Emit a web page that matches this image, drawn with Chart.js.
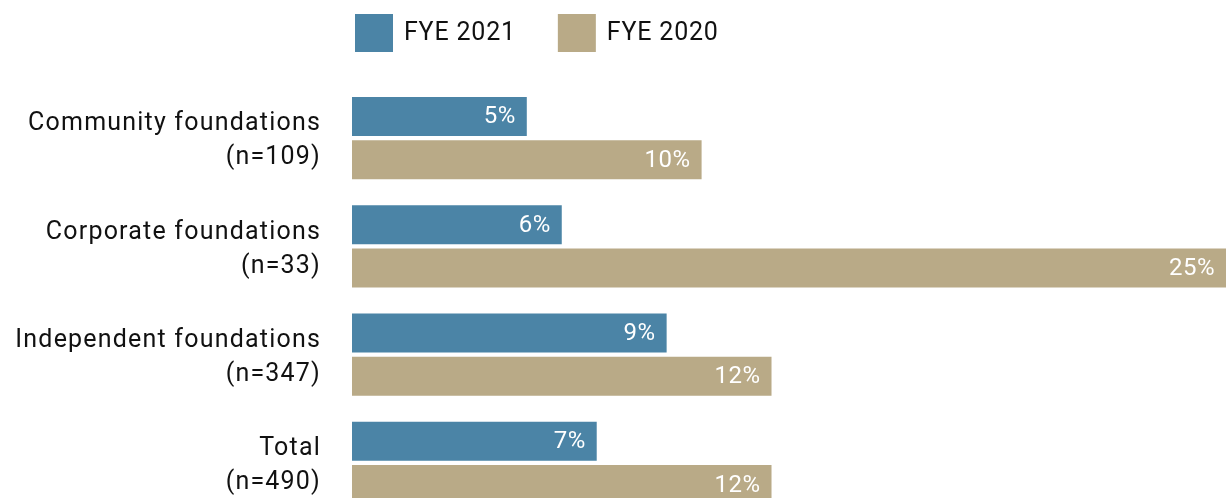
<!DOCTYPE html>
<html>
<head>
<meta charset="utf-8">
<script src="https://cdn.jsdelivr.net/npm/chart.js@4/dist/chart.umd.min.js"></script>
<style>
html,body{margin:0;padding:0;overflow:hidden;background:#fff;}
#wrap{width:1227px;height:498px;overflow:hidden;position:relative;}
canvas{display:block;}
</style>
</head>
<body>
<div id="wrap"><canvas id="c" width="1227" height="520"></canvas></div>
<script>
const categoryNames = ["Community foundations", "Corporate foundations", "Independent foundations", "Total"];
const sampleSizes = ["(n=109)", "(n=33)", "(n=347)", "(n=490)"];
const seriesNames = ["FYE 2021", "FYE 2020"];
const fye2021 = [5, 6, 9, 7];
const fye2020 = [10, 25, 12, 12];
const colors = ["#4B84A6", "#B9AA87"];

const labels = categoryNames.map((n, i) => [n, sampleSizes[i]]);
const FONT = "Roboto, 'Liberation Sans', sans-serif";

const spacingPlugin = {
  id: 'spacing',
  beforeDraw(chart) { chart.ctx.letterSpacing = '1.2px'; }
};

const legendPlugin = {
  id: 'customLegend',
  afterDraw(chart) {
    const ctx = chart.ctx;
    const x0 = chart.chartArea.left + 3;
    const box = 38;
    const top = 14;
    ctx.save();
    ctx.letterSpacing = '0.8px';
    ctx.font = "25px " + FONT;
    ctx.textBaseline = "middle";
    ctx.textAlign = "left";
    let x = x0;
    chart.data.datasets.forEach((ds) => {
      ctx.fillStyle = ds.backgroundColor;
      ctx.fillRect(x, top, box, box);
      ctx.fillStyle = "#111";
      ctx.fillText(ds.label, x + box + 11, top + box / 2 + 1);
      const w = ctx.measureText(ds.label).width;
      x += box + 11 + w + 42;
    });
    ctx.restore();
  }
};

const valueLabelPlugin = {
  id: 'valueLabels',
  afterDatasetsDraw(chart) {
    const ctx = chart.ctx;
    ctx.save();
    ctx.letterSpacing = '0.5px';
    ctx.font = "24px " + FONT;
    ctx.fillStyle = "#ffffff";
    ctx.textAlign = "right";
    ctx.textBaseline = "middle";
    chart.data.datasets.forEach((ds, di) => {
      const meta = chart.getDatasetMeta(di);
      meta.data.forEach((bar, i) => {
        ctx.fillText(ds.data[i] + "%", bar.x - 11, bar.y + 1);
      });
    });
    ctx.restore();
  }
};

new Chart(document.getElementById('c'), {
  type: 'bar',
  data: {
    labels: labels,
    datasets: [
      { label: seriesNames[0], data: fye2021, backgroundColor: colors[0], categoryPercentage: 0.8, barPercentage: 0.9 },
      { label: seriesNames[1], data: fye2020, backgroundColor: colors[1], categoryPercentage: 0.8, barPercentage: 0.9 }
    ]
  },
  options: {
    indexAxis: 'y',
    responsive: false,
    animation: false,
    layout: { padding: { top: 84, bottom: 3, left: 0, right: 1 } },
    plugins: {
      legend: { display: false },
      tooltip: { enabled: false }
    },
    scales: {
      x: { display: false, min: 0, max: 25 },
      y: {
        grid: { display: false, drawTicks: false },
        border: { display: false },
        ticks: {
          color: '#111',
          padding: 31,
          labelOffset: 3,
          font: { family: FONT, size: 25, lineHeight: 1.36 }
        },
        afterFit(scale) {
          scale.width = 352;
          scale.paddingTop = 0;
          scale.paddingBottom = 0;
        }
      }
    }
  },
  plugins: [spacingPlugin, legendPlugin, valueLabelPlugin]
});
</script>
</body>
</html>
